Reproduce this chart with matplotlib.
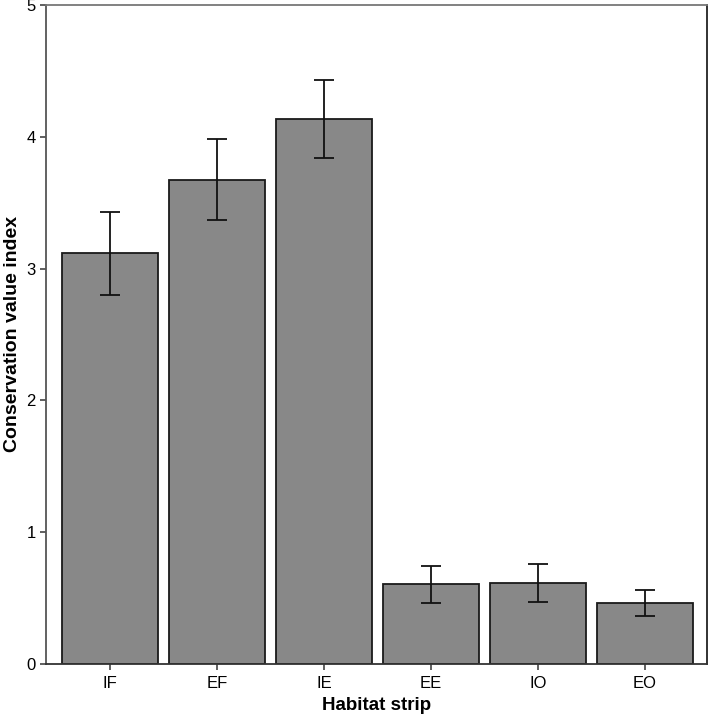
import matplotlib
matplotlib.use("Agg")
import matplotlib.pyplot as plt
import numpy as np

plt.rcParams['font.family'] = ['Liberation Sans', 'DejaVu Sans']

strips = ["IF", "EF", "IE", "EE", "IO", "EO"]
means = [3.12, 3.67, 4.135, 0.605, 0.615, 0.46]
err_low = [0.32, 0.30, 0.295, 0.145, 0.145, 0.10]
err_high = [0.31, 0.31, 0.295, 0.135, 0.145, 0.10]

fig = plt.figure(figsize=(7.09, 7.16), dpi=100)
ax = fig.add_axes([0.065, 0.073, 0.932, 0.920])

x = np.arange(len(strips))
ax.bar(x, means, width=0.9, color="#888888", edgecolor="#1a1a1a", linewidth=1.3, zorder=2)
ax.errorbar(x, means, yerr=[err_low, err_high], fmt="none", ecolor="#111111",
            elinewidth=1.3, capsize=7.5, capthick=1.3, zorder=3)

ax.set_xlim(-0.6, 5.58)
ax.set_ylim(0, 5)
ax.set_yticks([0, 1, 2, 3, 4, 5])
ax.set_xticks(x)
ax.set_xticklabels(strips)
ax.tick_params(axis="both", labelsize=12, length=4, width=1.2, color="#444444")
ax.tick_params(axis="x", pad=5)

ax.spines["top"].set_color("#777777")
ax.spines["left"].set_color("#555555")
ax.spines["right"].set_color("#222222")
ax.spines["bottom"].set_color("#333333")
for s in ax.spines.values():
    s.set_linewidth(1.3)

ax.set_xlabel("Habitat strip", fontsize=13.5, fontweight="bold", labelpad=4)
ax.set_ylabel("Conservation value index", fontsize=14, fontweight="bold", labelpad=4)

fig.savefig("out.png", dpi=100)
